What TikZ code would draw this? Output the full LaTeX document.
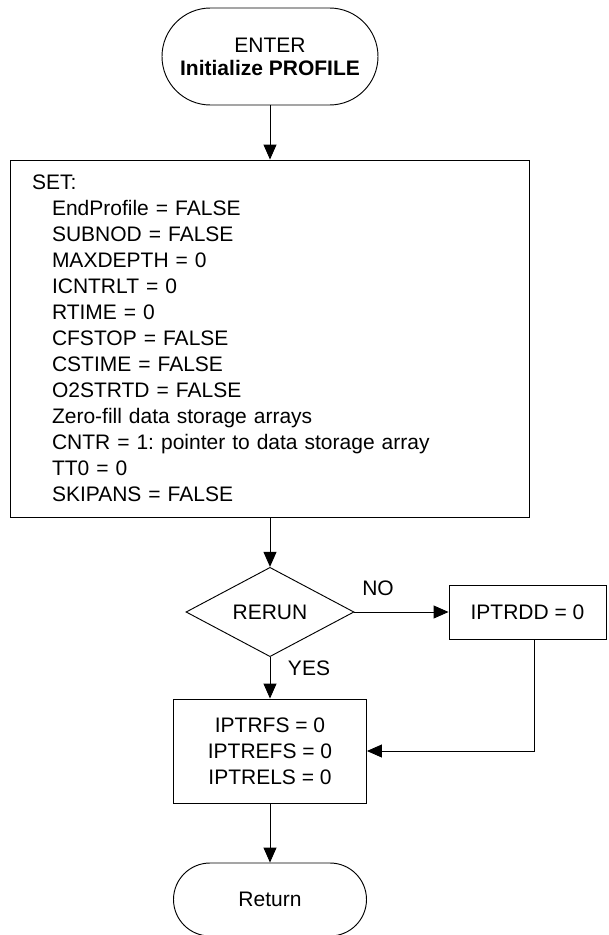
\documentclass[tikz,border=0pt]{standalone}
\usepackage{fontspec}
\setmainfont{Liberation Sans}
\usetikzlibrary{shapes.geometric,shapes.misc,arrows.meta}
\frenchspacing
\begin{document}
\begin{tikzpicture}[x=0.75pt,y=-0.75pt,
  every node/.style={font=\fontsize{15.75}{19.5}\selectfont, inner sep=0pt},
  line/.style={draw=black, line width=0.7pt},
  arr/.style={line, -{Triangle[length=11.25pt,width=9.75pt]}},
  term/.style={rounded rectangle, draw, line width=0.7pt, align=center},
  proc/.style={rectangle, draw, line width=0.7pt, align=center},
  decis/.style={diamond, draw, line width=0.7pt}]
\useasboundingbox (0,0) rectangle (608,935);
\node[term, minimum width=162pt, minimum height=72.75pt, font=\fontsize{15.75}{17.25}\selectfont] (start) at (270,56.5) {ENTER\\\textbf{Initialize PROFILE}};
\node[proc, align=left, inner xsep=16.5pt, text width=356.25pt, minimum width=389.25pt, minimum height=267.75pt] (set) at (269.5,338.5)
 {SET:\\
  \hspace*{15pt}EndProfile = FALSE\\
  \hspace*{15pt}SUBNOD = FALSE\\
  \hspace*{15pt}MAXDEPTH = 0\\
  \hspace*{15pt}ICNTRLT = 0\\
  \hspace*{15pt}RTIME = 0\\
  \hspace*{15pt}CFSTOP = FALSE\\
  \hspace*{15pt}CSTIME = FALSE\\
  \hspace*{15pt}O2STRTD = FALSE\\
  \hspace*{15pt}Zero-fill data storage arrays\\
  \hspace*{15pt}CNTR = 1: pointer to data storage array\\
  \hspace*{15pt}TT0 = 0\\
  \hspace*{15pt}SKIPANS = FALSE};
\node[decis, minimum width=126pt, minimum height=62.25pt] (dia) at (270,612) {RERUN};
\node[proc, minimum width=117.75pt, minimum height=40.5pt] (ipt) at (527.5,612) {IPTRDD = 0};
\node[proc, minimum width=144.75pt, minimum height=78pt] (low) at (270,751) {IPTRFS = 0\\IPTREFS = 0\\IPTRELS = 0};
\node[term, minimum width=144.75pt, minimum height=54.75pt] (ret) at (270,899.5) {Return};
\node (no) at (378,588) {NO};
\node (yes) at (309,668) {YES};
\draw[arr] (start.south) -- (start.south |- set.north);
\draw[arr] (set.south -| dia.north) -- (dia.north);
\draw[arr] (dia.east) -- (ipt.west);
\draw[arr] (dia.south) -- (low.north);
\draw[arr] ([xshift=4.875pt]ipt.south) |- (low.east);
\draw[arr] (low.south) -- (ret.north);
\end{tikzpicture}
\end{document}
